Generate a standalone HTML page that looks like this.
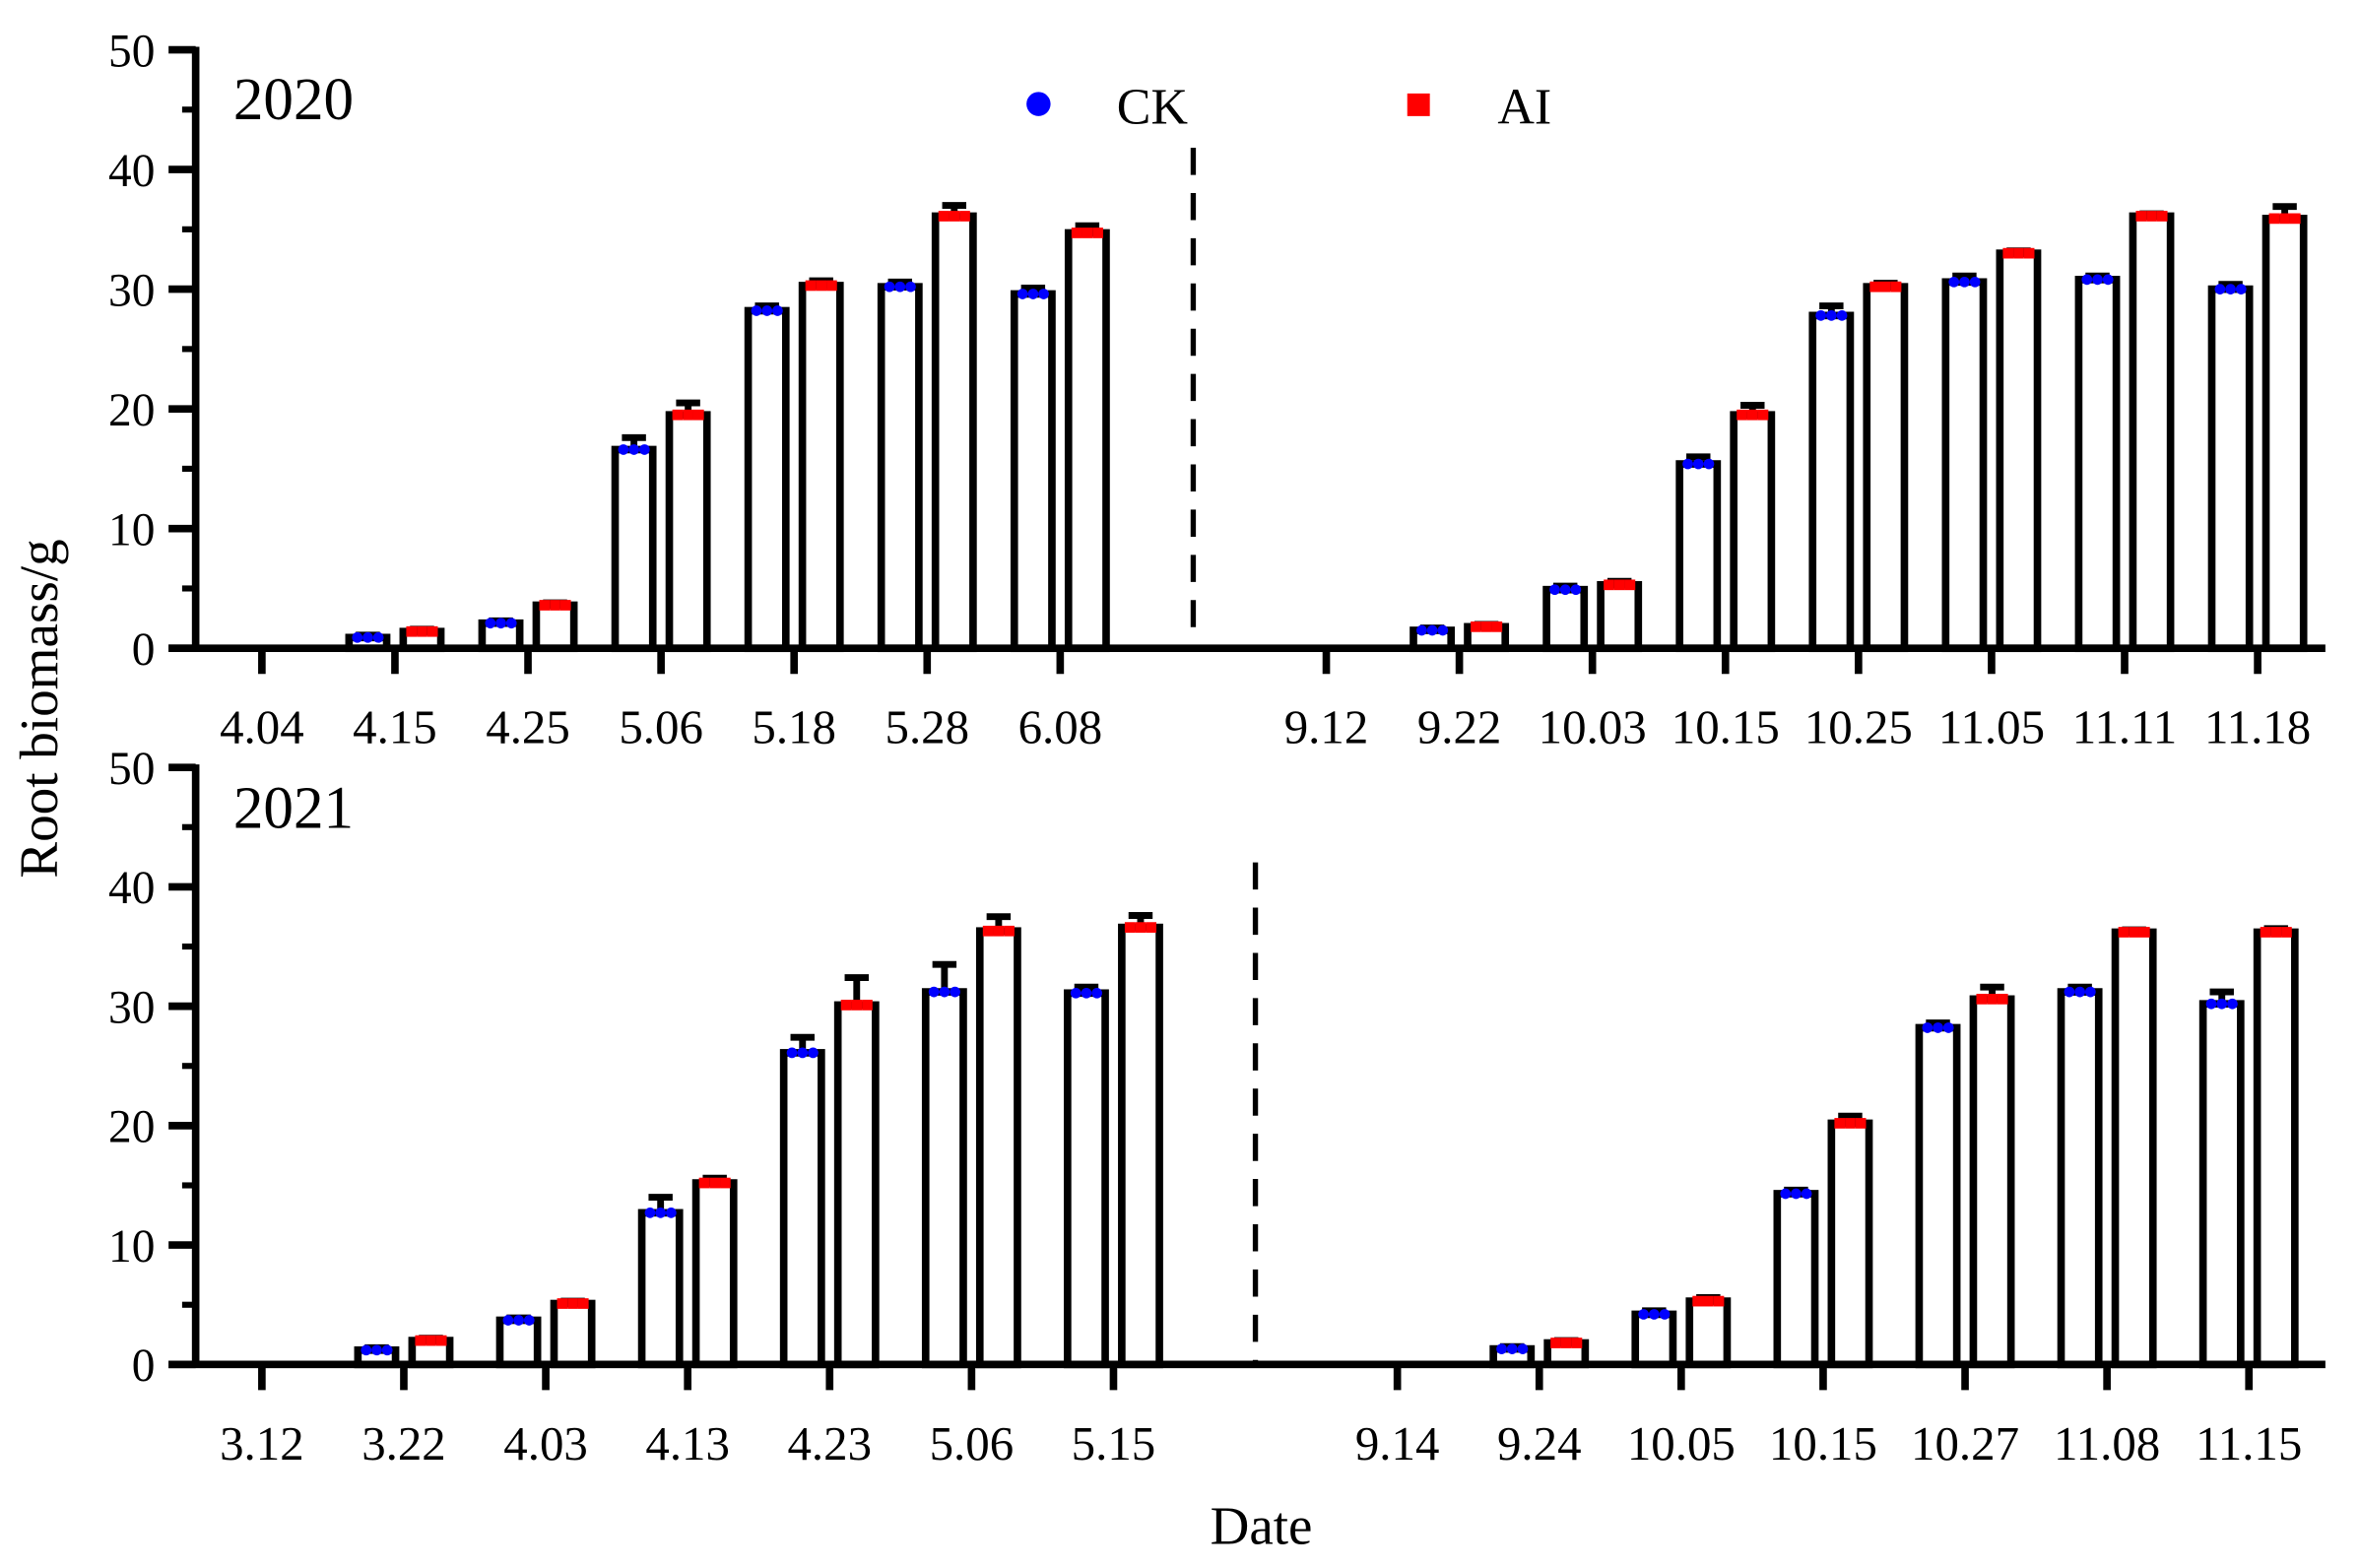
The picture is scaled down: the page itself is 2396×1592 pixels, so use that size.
<!DOCTYPE html>
<html><head><meta charset="utf-8"><style>
html,body{margin:0;padding:0;background:#fff;}
svg{display:block;font-family:"Liberation Serif",serif;}
</style></head><body>
<svg id="chart" width="2396" height="1592" viewBox="0 0 1568 1040" preserveAspectRatio="none" xmlns="http://www.w3.org/2000/svg">
<text x="0" y="0" transform="translate(38,470) rotate(-90)" text-anchor="middle" font-size="36">Root biomass/g</text>
<text x="838" y="1024" text-anchor="middle" font-size="36">Date</text>
<g>
<circle cx="690" cy="69" r="8" fill="#0000ff"/>
<text x="742" y="82" font-size="34">CK</text>
<rect x="935" y="62" width="15" height="15" fill="#ff0000"/>
<text x="995" y="82" font-size="34">AI</text>
</g>
</svg>
<script>
// 2020 panel data
const cats2020 = ["4.04","4.15","4.25","5.06","5.18","5.28","6.08","","9.12","9.22","10.03","10.15","10.25","11.05","11.11","11.18"];
const ck2020 = [0,0.9,2.1,16.6,28.2,30.2,29.6,null,0,1.5,4.9,15.4,27.8,30.6,30.8,30.0];
const ai2020 = [0,1.4,3.6,19.5,30.3,36.1,34.7,null,0,1.8,5.3,19.5,30.2,33.0,36.1,35.9];
const ckErr2020 = [0,0.2,0.2,1.0,0.4,0.4,0.5,null,0,0.2,0.3,0.6,0.8,0.5,0.3,0.4];
const aiErr2020 = [0,0.2,0.2,1.0,0.4,0.9,0.6,null,0,0.2,0.3,0.8,0.3,0.2,0.2,1.0];
// 2021 panel data
const cats2021 = ["3.12","3.22","4.03","4.13","4.23","5.06","5.15","","9.14","9.24","10.05","10.15","10.27","11.08","11.15"];
const ck2021 = [0,1.2,3.7,12.7,26.1,31.2,31.1,null,0,1.3,4.2,14.3,28.2,31.2,30.2];
const ai2021 = [0,2.0,5.1,15.2,30.1,36.3,36.6,null,0,1.8,5.3,20.2,30.6,36.2,36.2];
const ckErr2021 = [0,0.2,0.2,1.3,1.3,2.3,0.5,null,0,0.2,0.3,0.3,0.4,0.4,1.0];
const aiErr2021 = [0,0.2,0.2,0.4,2.3,1.2,1.0,null,0,0.2,0.3,0.6,1.0,0.2,0.3];
const yTicks = [0,10,20,30,40,50];

const NS = "http://www.w3.org/2000/svg";
const svg = document.getElementById("chart");
function mk(tag, attrs, parent){const e=document.createElementNS(NS,tag);for(const k in attrs)e.setAttribute(k,attrs[k]);(parent||svg).appendChild(e);return e;}

function panel(cfg){
  const g = mk("g",{});
  
  
  const y = v => cfg.y0 - (v/50)*(cfg.y0-cfg.y50);
  const x = i => cfg.x0 + i*cfg.step;
  for(let i=0;i<cfg.cats.length;i++){
    if(cfg.ck[i]===null) continue;
    [[cfg.ck,cfg.ckErr,-18,"#0000ff","ck"],[cfg.ai,cfg.aiErr,18,"#ff0000","ai"]].forEach(([vals,errs,off,col,s])=>{
      const v=vals[i]; if(v<=0) return;
      const cx=x(i)+off, top=y(v);
      const r=mk("rect",{x:cx-12.5,y:top,width:25,height:cfg.y0-top,fill:"#fff",stroke:"#000","stroke-width":5},g);
      
      
      const et=y(v+errs[i]);
      const el=mk("path",{d:`M${cx},${top} V${et} M${cx-8},${et} H${cx+8}`,stroke:"#000","stroke-width":4.5,fill:"none"},g);
      
      
      [-7,0,7].forEach(dx=>{
        const p = s==="ck" ? mk("circle",{cx:cx+dx,cy:top,r:3.5,fill:col},g) : mk("rect",{x:cx+dx-3.5,y:top-3.5,width:7,height:7,fill:col},g);
        
        
      });
    });
  }
  const ya=mk("line",{x1:130,y1:cfg.y50-2,x2:130,y2:cfg.y0+2,stroke:"#000","stroke-width":5},g);
  
  
  const xa=mk("line",{x1:112,y1:cfg.y0,x2:1545,y2:cfg.y0,stroke:"#000","stroke-width":5},g);
  
  
  for(let v=5; v<50; v+=10){mk("line",{x1:121,y1:y(v),x2:130,y2:y(v),stroke:"#000","stroke-width":4},g);}
  yTicks.forEach(v=>{
    mk("line",{x1:112,y1:y(v),x2:130,y2:y(v),stroke:"#000","stroke-width":5},g);
    const t=mk("text",{x:103,y:y(v)+11,"text-anchor":"end","font-size":31},g);
    t.textContent=v;
    
    
  });
  cfg.cats.forEach((c,i)=>{
    if(!c) return;
    mk("line",{x1:x(i),y1:cfg.y0,x2:x(i),y2:cfg.y0+17,stroke:"#000","stroke-width":5},g);
    const t=mk("text",{x:x(i),y:cfg.labelY,"text-anchor":"middle","font-size":32},g);
    t.textContent=c;
    
    
  });
  const d=mk("line",{x1:x(7),y1:cfg.dashTop,x2:x(7),y2:cfg.y0,stroke:"#000","stroke-width":3.5,"stroke-dasharray":"18,12"},g);
  
  
  const yt=mk("text",{x:155,y:cfg.yearY,"font-size":40},g);
  yt.textContent=cfg.year;
  
  
}
panel({name:"panel-2020",cats:cats2020,ck:ck2020,ai:ai2020,ckErr:ckErr2020,aiErr:aiErr2020,x0:174,step:88.4,y0:430,y50:33,labelY:493,dashTop:98,yearY:79,year:"2020"});
panel({name:"panel-2021",cats:cats2021,ck:ck2021,ai:ai2021,ckErr:ckErr2021,aiErr:aiErr2021,x0:174,step:94.3,y0:905,y50:509,labelY:968,dashTop:572,yearY:549,year:"2021"});
</script>
</body></html>
